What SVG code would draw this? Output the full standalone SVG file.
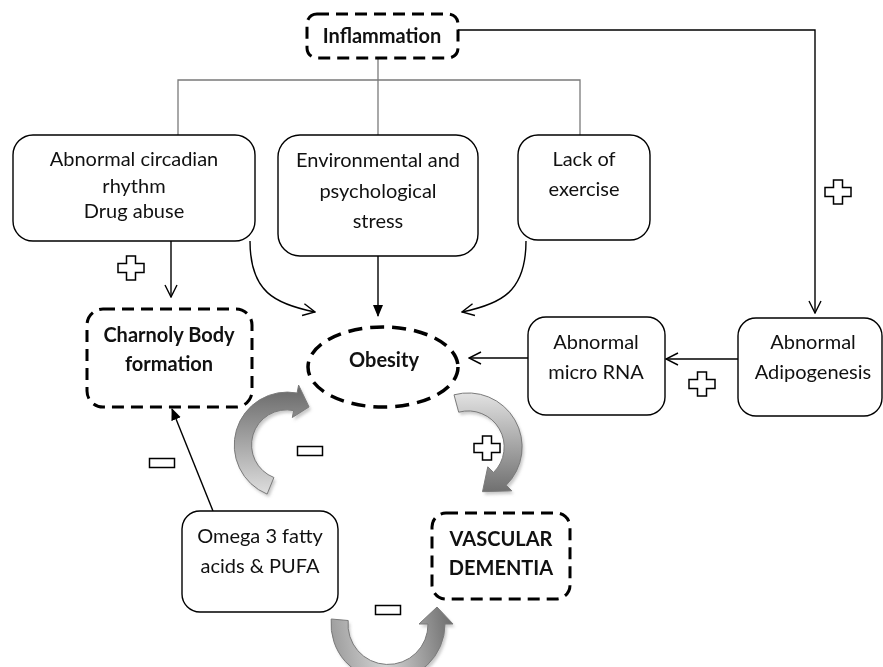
<svg xmlns="http://www.w3.org/2000/svg" width="883" height="667" viewBox="0 0 883 667">
<style>
.box{fill:#fff;stroke:#000;stroke-width:1.4}
.dash{fill:#fff;stroke:#000;stroke-width:3;stroke-dasharray:12 7}
.t{font-family:Lato,"Liberation Sans",sans-serif;font-size:20px;fill:#111;text-anchor:middle}
.b{font-family:Lato,"Liberation Sans",sans-serif;font-size:20px;font-weight:bold;fill:#111;text-anchor:middle}
.ln{fill:none;stroke:#000;stroke-width:1.4}
.gl{fill:none;stroke:#7a7a7a;stroke-width:1.3}
.sym{fill:#fff;stroke:#000;stroke-width:1.5}
.blk{stroke:#7a7a7a;stroke-width:1}
.shd{fill:#888;opacity:0.45}
</style>
<defs>
<marker id="open" viewBox="0 0 14 14" refX="13" refY="7" markerWidth="14" markerHeight="14" markerUnits="userSpaceOnUse" orient="auto">
<path d="M1,1 L13,7 L1,13" fill="none" stroke="#000" stroke-width="1.4"/>
</marker>
<marker id="fill" viewBox="0 0 12 12" refX="11" refY="6" markerWidth="12" markerHeight="12" markerUnits="userSpaceOnUse" orient="auto">
<path d="M0,1 L12,6 L0,11 Z" fill="#000"/>
</marker>
<linearGradient id="g1" gradientUnits="userSpaceOnUse" x1="287" y1="390" x2="287" y2="498">
<stop offset="0" stop-color="#6c6c6c"/><stop offset="1" stop-color="#e2e2e2"/>
</linearGradient>
<linearGradient id="g2" gradientUnits="userSpaceOnUse" x1="468" y1="393" x2="468" y2="495">
<stop offset="0" stop-color="#e2e2e2"/><stop offset="1" stop-color="#6c6c6c"/>
</linearGradient>
<linearGradient id="g3" gradientUnits="userSpaceOnUse" x1="331" y1="640" x2="453" y2="620">
<stop offset="0" stop-color="#9c9c9c"/><stop offset="0.4" stop-color="#d4d4d4"/><stop offset="1" stop-color="#6c6c6c"/>
</linearGradient>
<filter id="blur" x="-20%" y="-20%" width="140%" height="140%"><feGaussianBlur stdDeviation="1.5"/></filter>
<path id="plus" d="M-4.5,-12 H4.5 V-4.5 H13 V4.5 H4.5 V12 H-4.5 V4.5 H-13 V-4.5 H-4.5 Z"/>
<rect id="minus" x="-12.5" y="-4.5" width="25" height="9"/>
</defs>

<g id="connectors">
<polyline class="gl" points="178,135 178,80 580,80 580,135"/>
<line class="gl" x1="378" y1="58" x2="378" y2="135"/>
<polyline class="ln" points="458,30 815,30 815,313" marker-end="url(#open)"/>
<line class="ln" x1="171" y1="241" x2="171" y2="297" marker-end="url(#open)"/>
<path class="ln" d="M250,241 C250,292 275,304 315,312" marker-end="url(#open)"/>
<line class="ln" x1="378" y1="256" x2="378" y2="316" marker-end="url(#fill)"/>
<path class="ln" d="M526,241 C526,292 501,304 462,312" marker-end="url(#open)"/>
<line class="ln" x1="738" y1="359" x2="666" y2="359" marker-end="url(#open)"/>
<line class="ln" x1="528" y1="358" x2="469" y2="358" marker-end="url(#open)"/>
<line class="ln" x1="213" y1="511" x2="172" y2="409" marker-end="url(#fill)"/>
</g>

<g id="block-arrows">
<g transform="translate(2,3)" filter="url(#blur)">
<path class="shd" d="M267.1,494.1 A53,53 0 0 1 297.1,393 L298.6,385.1 L309,406.9 L292.3,417.5 L293.7,410.6 A35,35 0 0 0 273.9,477.5 Z"/>
<path class="shd" d="M454,394.8 A54,54 0 0 1 506.2,485.2 L511.8,490.8 L482.5,491.7 L487.8,466.8 L493.5,472.5 A36,36 0 0 0 458.7,412.2 Z"/>
<path class="shd" d="M331.2,619 A57,57 0 1 0 445,624 L453,624 L437,607 L419,624 L428,624 A40,40 0 1 1 348.2,620.5 Z"/>
</g>
<path class="blk" fill="url(#g1)" d="M267.1,494.1 A53,53 0 0 1 297.1,393 L298.6,385.1 L309,406.9 L292.3,417.5 L293.7,410.6 A35,35 0 0 0 273.9,477.5 Z"/>
<path class="blk" fill="url(#g2)" d="M454,394.8 A54,54 0 0 1 506.2,485.2 L511.8,490.8 L482.5,491.7 L487.8,466.8 L493.5,472.5 A36,36 0 0 0 458.7,412.2 Z"/>
<path class="blk" fill="url(#g3)" d="M331.2,619 A57,57 0 1 0 445,624 L453,624 L437,607 L419,624 L428,624 A40,40 0 1 1 348.2,620.5 Z"/>
</g>

<g id="signs">
<use href="#plus" class="sym" transform="translate(838,192)"/>
<use href="#plus" class="sym" transform="translate(131,268)"/>
<use href="#plus" class="sym" transform="translate(702,384)"/>
<use href="#plus" class="sym" transform="translate(487,448)"/>
<use href="#minus" class="sym" transform="translate(310,451)"/>
<use href="#minus" class="sym" transform="translate(162,463)"/>
<use href="#minus" class="sym" transform="translate(388,610)"/>
</g>

<g id="inflammation">
<rect class="dash" x="307" y="14" width="151" height="44" rx="10"/>
<text class="b" x="382" y="43">Inflammation</text>
</g>
<g id="circadian">
<rect class="box" x="13" y="135" width="242" height="106" rx="20"/>
<text class="t" x="134" y="166">Abnormal circadian</text>
<text class="t" x="134" y="193">rhythm</text>
<text class="t" x="134" y="218">Drug abuse</text>
</g>
<g id="stress">
<rect class="box" x="278" y="135" width="200" height="121" rx="22"/>
<text class="t" x="378" y="167">Environmental and</text>
<text class="t" x="378" y="198">psychological</text>
<text class="t" x="378" y="228">stress</text>
</g>
<g id="exercise">
<rect class="box" x="518" y="135" width="132" height="105" rx="20"/>
<text class="t" x="584" y="166">Lack of</text>
<text class="t" x="584" y="196">exercise</text>
</g>
<g id="charnoly">
<rect class="dash" x="87" y="309" width="165" height="98" rx="16"/>
<text class="b" x="169" y="342">Charnoly Body</text>
<text class="b" x="169" y="371">formation</text>
</g>
<g id="obesity">
<ellipse cx="383" cy="367" rx="75" ry="40" fill="#fff" stroke="#000" stroke-width="3.5" stroke-dasharray="14 8"/>
<text class="b" x="384" y="367">Obesity</text>
</g>
<g id="microrna">
<rect class="box" x="528" y="317" width="137" height="98" rx="18"/>
<text class="t" x="596" y="349">Abnormal</text>
<text class="t" x="596" y="379">micro RNA</text>
</g>
<g id="adipogenesis">
<rect class="box" x="738" y="318" width="144" height="98" rx="18"/>
<text class="t" x="813" y="349">Abnormal</text>
<text class="t" x="813" y="379">Adipogenesis</text>
</g>
<g id="omega">
<rect class="box" x="182" y="511" width="156" height="101" rx="18"/>
<text class="t" x="260" y="543">Omega 3 fatty</text>
<text class="t" x="260" y="573">acids &amp; PUFA</text>
</g>
<g id="dementia">
<rect class="dash" x="432" y="513" width="138" height="86" rx="14"/>
<text class="b" x="501" y="546">VASCULAR</text>
<text class="b" x="501" y="575">DEMENTIA</text>
</g>
</svg>
